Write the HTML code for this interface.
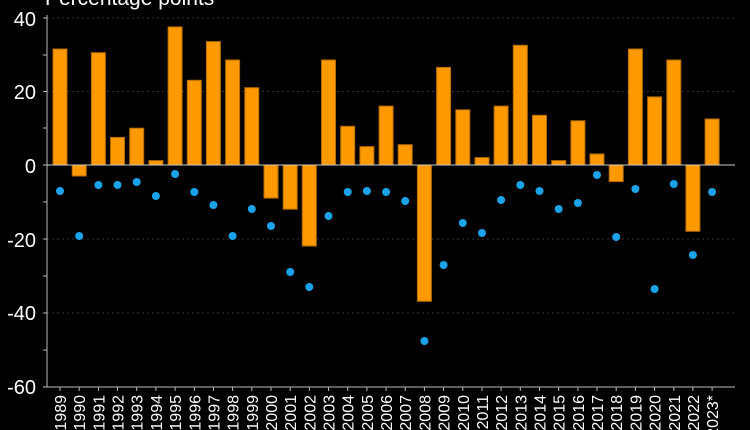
<!DOCTYPE html>
<html><head><meta charset="utf-8"><style>html,body{margin:0;padding:0;background:#000;}svg{display:block}</style></head>
<body>
<svg width="750" height="430" xmlns="http://www.w3.org/2000/svg" font-family="Liberation Sans, sans-serif">
<rect width="750" height="430" fill="#000"/>
<text x="45" y="5" fill="#fff" font-size="21">Percentage points</text>
<g stroke="#333" stroke-dasharray="2,3" stroke-width="1">
<line x1="47" x2="735" y1="18" y2="18"/><line x1="47" x2="735" y1="91.5" y2="91.5"/>
<line x1="47" x2="735" y1="239" y2="239"/><line x1="47" x2="735" y1="313" y2="313"/>
</g>
<g fill="#fff" font-size="20" text-anchor="end">
<text x="36" y="26">40</text><text x="36" y="99">20</text><text x="36" y="173">0</text>
<text x="36" y="247">-20</text><text x="36" y="320">-40</text><text x="36" y="394">-60</text>
</g>
<g stroke="#bbb" stroke-width="1">
<line x1="47" y1="15" x2="47" y2="387"/>
<line x1="43" y1="18" x2="47" y2="18"/><line x1="43" y1="55" x2="47" y2="55"/><line x1="43" y1="91.5" x2="47" y2="91.5"/><line x1="43" y1="128" x2="47" y2="128"/><line x1="43" y1="165" x2="47" y2="165"/><line x1="43" y1="202" x2="47" y2="202"/><line x1="43" y1="239" x2="47" y2="239"/><line x1="43" y1="276" x2="47" y2="276"/><line x1="43" y1="313" x2="47" y2="313"/><line x1="43" y1="350" x2="47" y2="350"/>
<line x1="43" y1="387" x2="735" y2="387"/>
</g>
<g fill="#ff9900" stroke="#b36b00" stroke-width="1">
<rect x="53" y="49" width="14" height="116"/>
<rect x="72.2" y="165" width="14" height="11"/>
<rect x="91.4" y="52.7" width="14" height="112.3"/>
<rect x="110.5" y="137.4" width="14" height="27.6"/>
<rect x="129.7" y="128.2" width="14" height="36.8"/>
<rect x="148.9" y="160.6" width="14" height="4.4"/>
<rect x="168.1" y="26.9" width="14" height="138.1"/>
<rect x="187.3" y="80.3" width="14" height="84.7"/>
<rect x="206.4" y="41.6" width="14" height="123.4"/>
<rect x="225.6" y="60" width="14" height="105"/>
<rect x="244.8" y="87.7" width="14" height="77.3"/>
<rect x="264" y="165" width="14" height="33.1"/>
<rect x="283.2" y="165" width="14" height="44.2"/>
<rect x="302.3" y="165" width="14" height="81"/>
<rect x="321.5" y="60" width="14" height="105"/>
<rect x="340.7" y="126.3" width="14" height="38.7"/>
<rect x="359.9" y="146.6" width="14" height="18.4"/>
<rect x="379.1" y="106.1" width="14" height="58.9"/>
<rect x="398.2" y="144.7" width="14" height="20.3"/>
<rect x="417.4" y="165" width="14" height="136.3"/>
<rect x="436.6" y="67.4" width="14" height="97.6"/>
<rect x="455.8" y="109.8" width="14" height="55.2"/>
<rect x="475" y="157.6" width="14" height="7.4"/>
<rect x="494.1" y="106.1" width="14" height="58.9"/>
<rect x="513.3" y="45.3" width="14" height="119.7"/>
<rect x="532.5" y="115.3" width="14" height="49.7"/>
<rect x="551.7" y="160.6" width="14" height="4.4"/>
<rect x="570.9" y="120.8" width="14" height="44.2"/>
<rect x="590" y="154" width="14" height="11"/>
<rect x="609.2" y="165" width="14" height="16.6"/>
<rect x="628.4" y="49" width="14" height="116"/>
<rect x="647.6" y="96.9" width="14" height="68.1"/>
<rect x="666.8" y="60" width="14" height="105"/>
<rect x="685.9" y="165" width="14" height="66.3"/>
<rect x="705.1" y="119" width="14" height="46"/>
</g>
<line x1="47" y1="165" x2="735" y2="165" stroke="#ccc" stroke-width="1"/>
<g fill="#1aa3e8">
<circle cx="60" cy="191" r="4"/><circle cx="79.2" cy="236" r="4"/><circle cx="98.4" cy="185" r="4"/><circle cx="117.5" cy="185" r="4"/><circle cx="136.7" cy="182" r="4"/><circle cx="155.9" cy="196" r="4"/><circle cx="175.1" cy="174" r="4"/><circle cx="194.3" cy="192" r="4"/><circle cx="213.4" cy="205" r="4"/><circle cx="232.6" cy="236" r="4"/><circle cx="251.8" cy="209" r="4"/><circle cx="271" cy="226" r="4"/><circle cx="290.2" cy="272" r="4"/><circle cx="309.3" cy="287" r="4"/><circle cx="328.5" cy="216" r="4"/><circle cx="347.7" cy="192" r="4"/><circle cx="366.9" cy="191" r="4"/><circle cx="386.1" cy="192" r="4"/><circle cx="405.2" cy="201" r="4"/><circle cx="424.4" cy="341" r="4"/><circle cx="443.6" cy="265" r="4"/><circle cx="462.8" cy="223" r="4"/><circle cx="482" cy="233" r="4"/><circle cx="501.1" cy="200" r="4"/><circle cx="520.3" cy="185" r="4"/><circle cx="539.5" cy="191" r="4"/><circle cx="558.7" cy="209" r="4"/><circle cx="577.9" cy="203" r="4"/><circle cx="597" cy="175" r="4"/><circle cx="616.2" cy="237" r="4"/><circle cx="635.4" cy="189" r="4"/><circle cx="654.6" cy="289" r="4"/><circle cx="673.8" cy="184" r="4"/><circle cx="692.9" cy="255" r="4"/><circle cx="712.1" cy="192" r="4"/>
</g>
<g stroke="#bbb" stroke-width="1">
<line x1="60" y1="387" x2="60" y2="391"/><line x1="79.2" y1="387" x2="79.2" y2="391"/><line x1="98.4" y1="387" x2="98.4" y2="391"/><line x1="117.5" y1="387" x2="117.5" y2="391"/><line x1="136.7" y1="387" x2="136.7" y2="391"/><line x1="155.9" y1="387" x2="155.9" y2="391"/><line x1="175.1" y1="387" x2="175.1" y2="391"/><line x1="194.3" y1="387" x2="194.3" y2="391"/><line x1="213.4" y1="387" x2="213.4" y2="391"/><line x1="232.6" y1="387" x2="232.6" y2="391"/><line x1="251.8" y1="387" x2="251.8" y2="391"/><line x1="271" y1="387" x2="271" y2="391"/><line x1="290.2" y1="387" x2="290.2" y2="391"/><line x1="309.3" y1="387" x2="309.3" y2="391"/><line x1="328.5" y1="387" x2="328.5" y2="391"/><line x1="347.7" y1="387" x2="347.7" y2="391"/><line x1="366.9" y1="387" x2="366.9" y2="391"/><line x1="386.1" y1="387" x2="386.1" y2="391"/><line x1="405.2" y1="387" x2="405.2" y2="391"/><line x1="424.4" y1="387" x2="424.4" y2="391"/><line x1="443.6" y1="387" x2="443.6" y2="391"/><line x1="462.8" y1="387" x2="462.8" y2="391"/><line x1="482" y1="387" x2="482" y2="391"/><line x1="501.1" y1="387" x2="501.1" y2="391"/><line x1="520.3" y1="387" x2="520.3" y2="391"/><line x1="539.5" y1="387" x2="539.5" y2="391"/><line x1="558.7" y1="387" x2="558.7" y2="391"/><line x1="577.9" y1="387" x2="577.9" y2="391"/><line x1="597" y1="387" x2="597" y2="391"/><line x1="616.2" y1="387" x2="616.2" y2="391"/><line x1="635.4" y1="387" x2="635.4" y2="391"/><line x1="654.6" y1="387" x2="654.6" y2="391"/><line x1="673.8" y1="387" x2="673.8" y2="391"/><line x1="692.9" y1="387" x2="692.9" y2="391"/><line x1="712.1" y1="387" x2="712.1" y2="391"/>
</g>
<g fill="#fff" font-size="16" text-anchor="end">
<text transform="translate(66,395) rotate(-90)">1989</text>
<text transform="translate(85.2,395) rotate(-90)">1990</text>
<text transform="translate(104.4,395) rotate(-90)">1991</text>
<text transform="translate(123.5,395) rotate(-90)">1992</text>
<text transform="translate(142.7,395) rotate(-90)">1993</text>
<text transform="translate(161.9,395) rotate(-90)">1994</text>
<text transform="translate(181.1,395) rotate(-90)">1995</text>
<text transform="translate(200.3,395) rotate(-90)">1996</text>
<text transform="translate(219.4,395) rotate(-90)">1997</text>
<text transform="translate(238.6,395) rotate(-90)">1998</text>
<text transform="translate(257.8,395) rotate(-90)">1999</text>
<text transform="translate(277,395) rotate(-90)">2000</text>
<text transform="translate(296.2,395) rotate(-90)">2001</text>
<text transform="translate(315.3,395) rotate(-90)">2002</text>
<text transform="translate(334.5,395) rotate(-90)">2003</text>
<text transform="translate(353.7,395) rotate(-90)">2004</text>
<text transform="translate(372.9,395) rotate(-90)">2005</text>
<text transform="translate(392.1,395) rotate(-90)">2006</text>
<text transform="translate(411.2,395) rotate(-90)">2007</text>
<text transform="translate(430.4,395) rotate(-90)">2008</text>
<text transform="translate(449.6,395) rotate(-90)">2009</text>
<text transform="translate(468.8,395) rotate(-90)">2010</text>
<text transform="translate(488,395) rotate(-90)">2011</text>
<text transform="translate(507.1,395) rotate(-90)">2012</text>
<text transform="translate(526.3,395) rotate(-90)">2013</text>
<text transform="translate(545.5,395) rotate(-90)">2014</text>
<text transform="translate(564.7,395) rotate(-90)">2015</text>
<text transform="translate(583.9,395) rotate(-90)">2016</text>
<text transform="translate(603,395) rotate(-90)">2017</text>
<text transform="translate(622.2,395) rotate(-90)">2018</text>
<text transform="translate(641.4,395) rotate(-90)">2019</text>
<text transform="translate(660.6,395) rotate(-90)">2020</text>
<text transform="translate(679.8,395) rotate(-90)">2021</text>
<text transform="translate(698.9,395) rotate(-90)">2022</text>
<text transform="translate(718.1,395) rotate(-90)">2023*</text>
</g>
</svg>
</body></html>
